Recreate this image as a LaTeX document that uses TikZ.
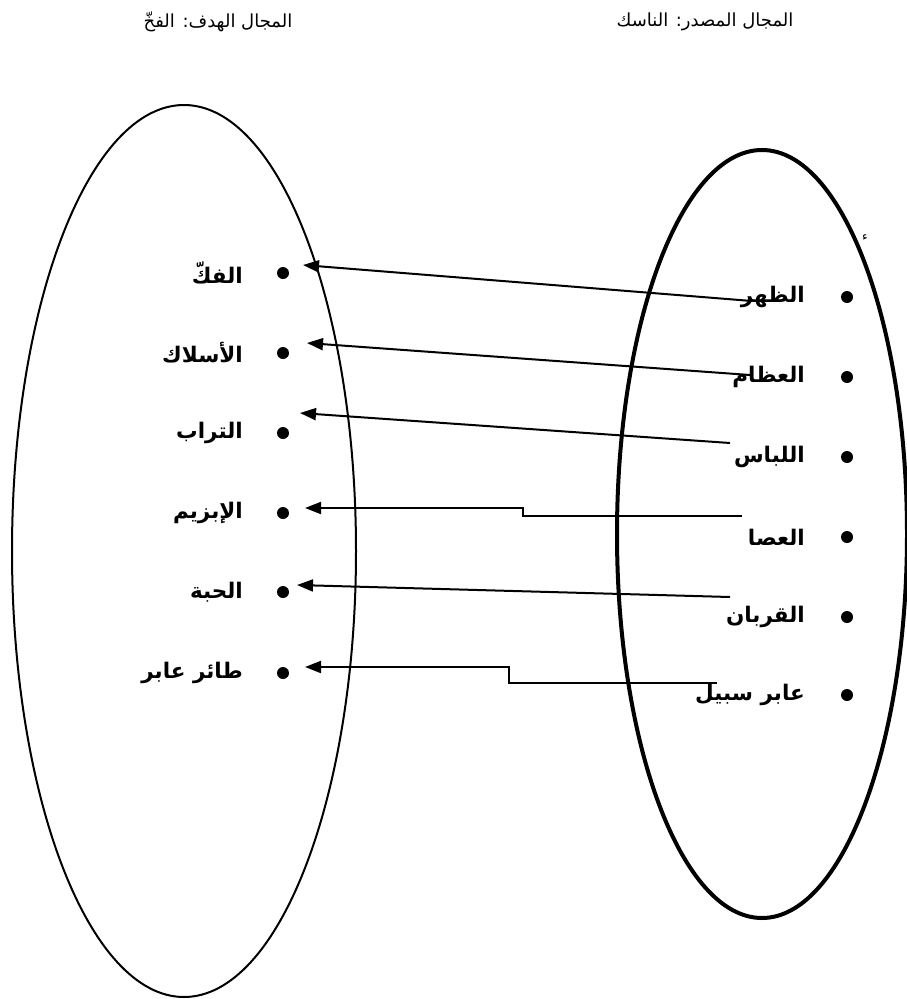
\documentclass[tikz,border=0pt]{standalone}
\usepackage{fontspec}
\TeXXeTstate=1
\newfontfamily\arabicfont[Script=Arabic]{DejaVu Sans}
\usetikzlibrary{arrows.meta}
\begin{document}
\begin{tikzpicture}[x=1pt,y=-1pt,
  lab/.style={font=\arabicfont\bfseries\fontsize{21.5}{24}\selectfont, anchor=east, inner sep=0pt},
  ttl/.style={font=\arabicfont\fontsize{18}{20}\selectfont, inner sep=0pt},
  dotm/.style={circle, fill=black, inner sep=0pt, minimum size=12pt},
  conn/.style={line width=2pt, -{Triangle[length=16pt,width=12pt]}},
  ell/.style={draw, line width=2pt}]
\useasboundingbox (0,0) rectangle (907,999);
% titles
\node[ttl] (t1) at (705,22) {\beginR المجال المصدر: الناسك\endR};
\node[ttl] (t2) at (218,22) {\beginR المجال الهدف: الفخّ\endR};
% ellipses
\draw[ell] (184,551) ellipse [x radius=172, y radius=446];
\draw[ell, line width=4pt] (762,534) ellipse [x radius=145, y radius=384];
\node[font=\arabicfont\fontsize{12}{12}\selectfont, inner sep=0pt] (hz) at (865,238) {ء};
% left items
\foreach \n/\y/\t in {l1/273/الفكّ, l2/353/الأسلاك, l3/433/التراب, l4/513/الإبزيم, l5/592/الحبة, l6/673/طائر عابر}{
  \node[dotm] (d\n) at (283,\y) {};
  \node[lab] (\n) at (243,\y) {\beginR\t\endR};
}
% right items
\foreach \n/\y/\t in {r1/297/الظهر, r2/377/العظام, r3/457/اللباس, r4/537/العصا, r5/617/القربان, r6/695/عابر سبيل}{
  \node[dotm] (d\n) at (847,\y) {};
  \node[lab] (\n) at (805,\y) {\beginR\t\endR};
}
% connector endpoints
\coordinate (a1) at (303,265); \coordinate (b1) at (752,301);
\coordinate (a2) at (307,343); \coordinate (b2) at (750,375);
\coordinate (a3) at (300,413); \coordinate (b3) at (730,443);
\coordinate (a4) at (305,508); \coordinate (b4) at (742,516);
\coordinate (a5) at (297,585); \coordinate (b5) at (730,597);
\coordinate (a6) at (305,667); \coordinate (b6) at (717,683);
\draw[conn] (b1) -- (a1);
\draw[conn] (b2) -- (a2);
\draw[conn] (b3) -- (a3);
\draw[conn] (b4) -- (523,516) -- (523,508) -- (a4);
\draw[conn] (b5) -- (a5);
\draw[conn] (b6) -- (509,683) -- (509,667) -- (a6);
\end{tikzpicture}
\end{document}
